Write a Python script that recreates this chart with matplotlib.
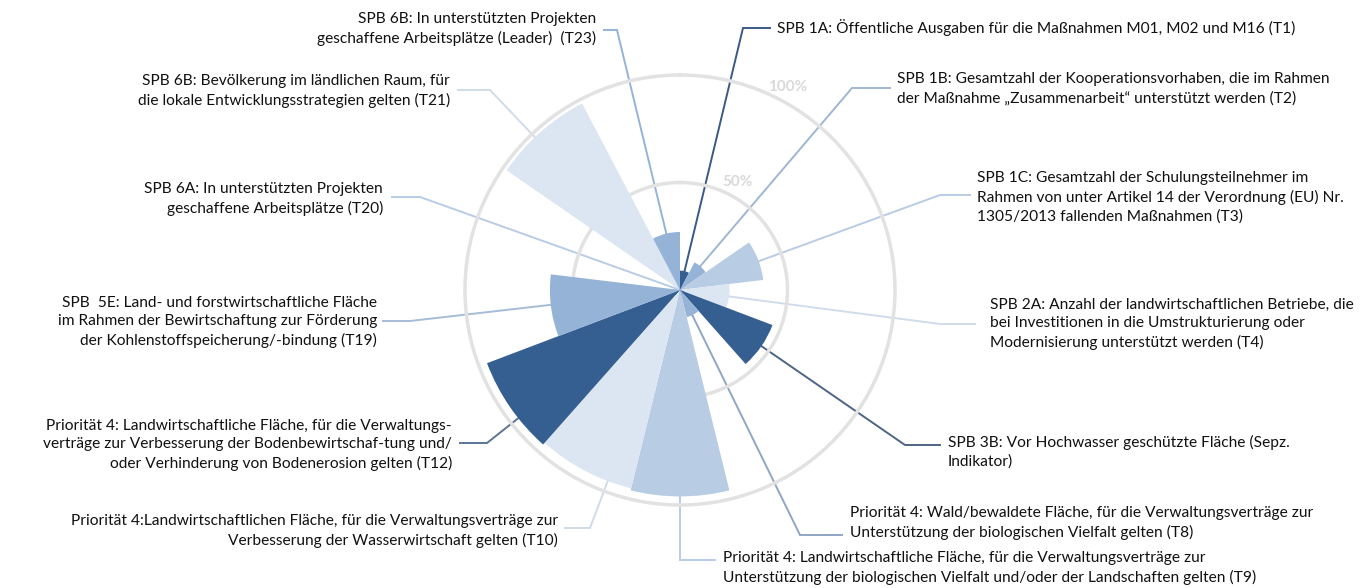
import numpy as np
import matplotlib
matplotlib.use("Agg")
import matplotlib.pyplot as plt

## Data

codes = ["T1", "T2", "T3", "T4", "3B", "T8", "T9", "T10", "T12", "T19", "T20", "T21", "T23"]
values = [0.09, 0.145, 0.39, 0.23, 0.46, 0.13, 0.96, 0.95, 0.96, 0.605, 0.0, 0.98, 0.27]
labels = [
    "SPB 1A: Öffentliche Ausgaben für die Maßnahmen M01, M02 und M16 (T1)",
    "SPB 1B: Gesamtzahl der Kooperationsvorhaben, die im Rahmen\nder Maßnahme „Zusammenarbeit“ unterstützt werden (T2)",
    "SPB 1C: Gesamtzahl der Schulungsteilnehmer im\nRahmen von unter Artikel 14 der Verordnung (EU) Nr.\n1305/2013 fallenden Maßnahmen (T3)",
    "SPB 2A: Anzahl der landwirtschaftlichen Betriebe, die\nbei Investitionen in die Umstrukturierung oder\nModernisierung unterstützt werden (T4)",
    "SPB 3B: Vor Hochwasser geschützte Fläche (Sepz.\nIndikator)",
    "Priorität 4: Wald/bewaldete Fläche, für die Verwaltungsverträge zur\nUnterstützung der biologischen Vielfalt gelten (T8)",
    "Priorität 4: Landwirtschaftliche Fläche, für die Verwaltungsverträge zur\nUnterstützung der biologischen Vielfalt und/oder der Landschaften gelten (T9)",
    "Priorität 4:Landwirtschaftlichen Fläche, für die Verwaltungsverträge zur\nVerbesserung der Wasserwirtschaft gelten (T10)",
    "Priorität 4: Landwirtschaftliche Fläche, für die Verwaltungs-\nverträge zur Verbesserung der Bodenbewirtschaf-tung und/\noder Verhinderung von Bodenerosion gelten (T12)",
    "SPB  5E: Land- und forstwirtschaftliche Fläche\nim Rahmen der Bewirtschaftung zur Förderung\nder Kohlenstoffspeicherung/-bindung (T19)",
    "SPB 6A: In unterstützten Projekten\ngeschaffene Arbeitsplätze (T20)",
    "SPB 6B: Bevölkerung im ländlichen Raum, für\ndie lokale Entwicklungsstrategien gelten (T21)",
    "SPB 6B: In unterstützten Projekten\ngeschaffene Arbeitsplätze (Leader)  (T23)",
]
ring_ticks = [0.5, 1.0]
ring_labels = ["50%", "100%"]

## Styling

DARK, MED, LIGHT, PALE = "#365f91", "#95b3d7", "#b8cce4", "#dce6f2"
bar_colors = [DARK, MED, LIGHT, PALE, DARK, MED, LIGHT, PALE, DARK, MED, LIGHT, PALE, MED]
line_colors = ["#3a5a85", "#9fb6d3", "#b8cce4", "#d0dcea", "#4d6584", "#8fa6c4", "#b8cce4",
               "#d0dcea", "#5b7597", "#a7bcd6", "#b8cce4", "#d0dcea", "#95b3d7"]

# label layout in pixels: elbow point, end of horizontal stub, text anchor
elbows = [(743, 28), (852, 88), (940, 195), (940, 324), (905, 445), (800, 535), (680, 560),
          (590, 528), (487, 443), (410, 321), (420, 197), (490, 90), (617, 30)]
stub_ends = [770, 890, 970, 975, 940, 842, 715, 565, 460, 383, 392, 458, 604]
text_pos = [(777, 28), (897, 89), (977, 197), (990, 324), (948, 452), (850, 523), (723, 568),
            (558, 531), (452, 445), (377, 322), (383, 199), (450, 91), (596, 29)]

W, H = 1363, 588
CX, CY, R = 680, 290, 215

plt.rcParams["font.family"] = ["Lato", "DejaVu Sans"]

fig = plt.figure(figsize=(W / 100, H / 100), dpi=100)

# pixel overlay for leader lines and captions
lay = fig.add_axes([0, 0, 1, 1], zorder=0)
lay.set_xlim(0, W)
lay.set_ylim(H, 0)
lay.axis("off")

ax = fig.add_axes([(CX - R) / W, (H - CY - R) / H, 2 * R / W, 2 * R / H],
                  projection="polar", zorder=1)
ax.patch.set_alpha(0)
ax.set_theta_zero_location("N")
ax.set_theta_direction(-1)
ax.set_ylim(0, 1)
ax.axis("off")

n = len(codes)
step = 2 * np.pi / n
theta = np.arange(n) * step + step / 2

# rings at 50% and 100%
ring = np.linspace(0, 2 * np.pi, 400)
for r in ring_ticks:
    ax.plot(ring, np.full_like(ring, r), color="#e2e2e2", lw=2.5, zorder=1, clip_on=False)

ax.bar(theta, values, width=step, color=bar_colors, edgecolor="none", zorder=3)

for r, txt in zip(ring_ticks, ring_labels):
    ax.text(np.deg2rad(28), r + 0.07, txt, color="#d9d9d9", fontsize=11, fontweight="bold",
            ha="center", va="center", zorder=4)

# leader lines and captions
for i in range(n):
    ex, ey = elbows[i]
    lay.plot([CX, ex, stub_ends[i]], [CY, ey, ey], color=line_colors[i], lw=1.4,
             solid_joinstyle="miter")
    tx, ty = text_pos[i]
    ha = "left" if stub_ends[i] > ex else "right"
    lay.text(tx, ty, labels[i], ha=ha, va="center", multialignment=ha,
             fontsize=11.2, color="#111111", linespacing=1.4)

fig.savefig("out.png", dpi=100, facecolor="white")
